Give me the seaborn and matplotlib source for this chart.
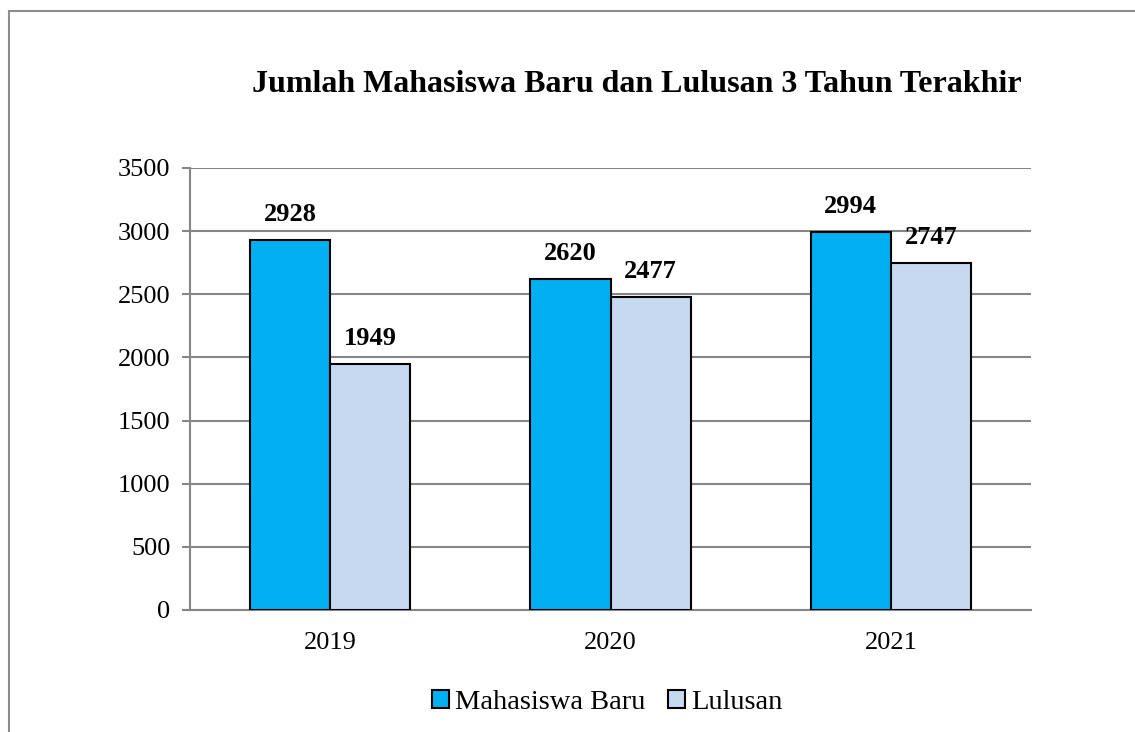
import pandas as pd
import numpy as np
import matplotlib.pyplot as plt
import seaborn as sns
from matplotlib.lines import Line2D
from matplotlib.patches import Patch

# Data
years = ['2019', '2020', '2021']
mahasiswa_baru = [2928, 2620, 2994]
lulusan = [1949, 2477, 2747]
series_names = ['Mahasiswa Baru', 'Lulusan']
colors = ['#00B0F0', '#C6D9F1']

df = pd.DataFrame({
    'tahun': years * 2,
    'jumlah': mahasiswa_baru + lulusan,
    'seri': [series_names[0]] * 3 + [series_names[1]] * 3,
})

sns.set_style('white')
plt.rcParams['font.family'] = ['Liberation Serif', 'DejaVu Serif']
plt.rcParams['text.color'] = 'black'

grey = '#868686'

fig = plt.figure(figsize=(11.35, 7.32), dpi=100)
ax = fig.add_axes([0.1674, 0.1667, 0.741, 0.6038])

sns.barplot(data=df, x='tahun', y='jumlah', hue='seri', palette=colors,
            width=4 / 7, gap=0, edgecolor='black', linewidth=1.5,
            saturation=1, legend=False, ax=ax, zorder=3)

# value labels
for cont in ax.containers:
    ax.bar_label(cont, fmt='%d', padding=10, fontsize=19, fontweight='bold',
                 color='black')

ax.set_ylim(0, 3500)
ax.set_xlim(-0.5, 2.5)
ax.set_yticks(np.arange(0, 3501, 500))
ax.yaxis.grid(True, color=grey, linewidth=1.5, zorder=0)
ax.set_axisbelow(True)
ax.set_xlabel('')
ax.set_ylabel('')

ax.set_xticks(np.arange(-0.5, 2.6, 1), minor=True)
ax.tick_params(axis='x', which='major', length=0, labelsize=19, pad=16,
               labelcolor='black')
ax.tick_params(axis='x', which='minor', length=6, width=1.5, color=grey, direction='out')
ax.tick_params(axis='y', length=6, width=1.5, color=grey, direction='out',
               labelsize=19, pad=8, left=True, labelcolor='black')

for side in ['top', 'right']:
    ax.spines[side].set_visible(False)
for side in ['left', 'bottom']:
    ax.spines[side].set_color(grey)
    ax.spines[side].set_linewidth(1.5)

fig.text(0.561, 0.884, 'Jumlah Mahasiswa Baru dan Lulusan 3 Tahun Terakhir',
         ha='center', va='center', fontsize=23, fontweight='bold', color='black')

handles = [Patch(facecolor=c, edgecolor='black', linewidth=1.5) for c in colors]
fig.legend(handles, series_names, loc='center', bbox_to_anchor=(0.535, 0.04),
           ncol=2, frameon=False, fontsize=20.5, handlelength=0.6, handleheight=0.6,
           handletextpad=0.2, columnspacing=0.8, labelcolor='black')

# outer frame (top and left edges visible)
fig.add_artist(Line2D([9 / 1135, 1], [1 - 11 / 732, 1 - 11 / 732],
                      transform=fig.transFigure, color='#8c8c8c', linewidth=1.5))
fig.add_artist(Line2D([9 / 1135, 9 / 1135], [0, 1 - 11 / 732],
                      transform=fig.transFigure, color='#8c8c8c', linewidth=1.5))

plt.savefig('out.png', dpi=100)
